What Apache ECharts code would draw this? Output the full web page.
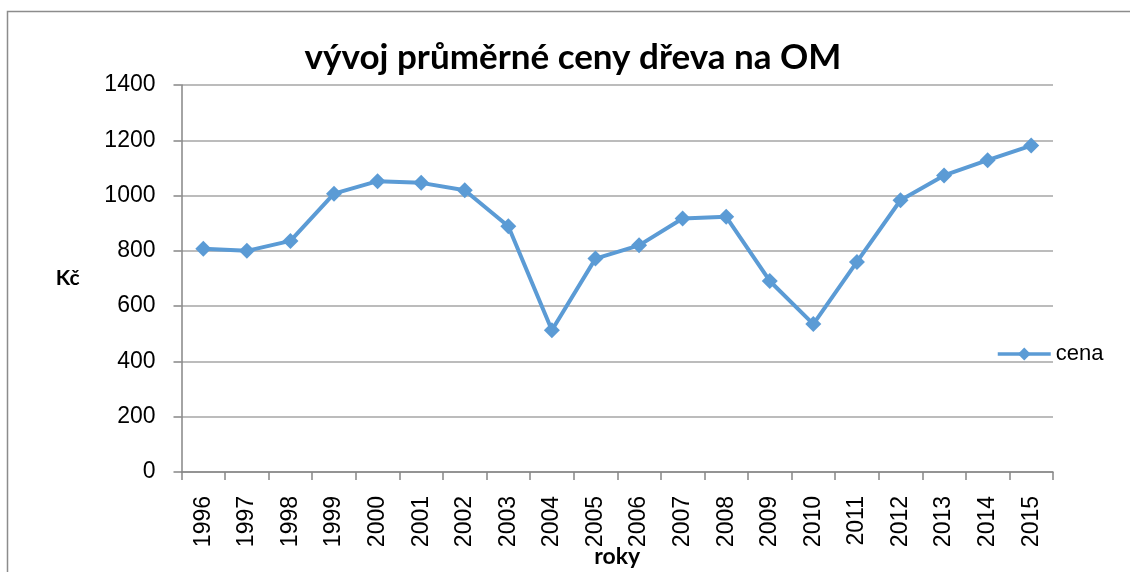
<!DOCTYPE html>
<html>
<head>
<meta charset="utf-8">
<script src="https://cdn.jsdelivr.net/npm/echarts@6/dist/echarts.min.js"></script>
<style>
  html, body { margin: 0; padding: 0; background: #fff; }
  #chart { width: 1130px; height: 572px; }
</style>
</head>
<body>
<div id="chart"></div>
<script>
// Roky a průměrná cena dřeva (Kč)
const years = ['1996','1997','1998','1999','2000','2001','2002','2003','2004','2005',
               '2006','2007','2008','2009','2010','2011','2012','2013','2014','2015'];
const cena = [808, 800, 836, 1007, 1052, 1046, 1019, 889, 513, 772,
              820, 917, 923, 691, 535, 760, 983, 1073, 1128, 1181];
const yTicks = [0, 200, 400, 600, 800, 1000, 1200, 1400];

const chart = echarts.init(document.getElementById('chart'));
const labelFont = 'Liberation Sans';
const blue = '#5b9bd5';

chart.setOption({
  animation: false,
  backgroundColor: '#ffffff',
  graphic: [{
    type: 'rect',
    shape: { x: 7.5, y: 11.5, width: 1140, height: 580 },
    style: { fill: 'none', stroke: '#8c8c8c', lineWidth: 1.5 },
    silent: true
  }],
  title: {
    text: 'vývoj průměrné ceny dřeva na OM',
    left: 568,
    textAlign: 'center',
    top: 35,
    textStyle: { fontFamily: 'Lato', fontWeight: 'bold', fontSize: 35, color: '#000' }
  },
  legend: {
    data: ['cena'],
    left: 991,
    top: 338,
    itemWidth: 53,
    itemHeight: 16,
    itemGap: 2,
    lineStyle: { width: 3.5, color: blue },
    itemStyle: { color: blue },
    textStyle: { fontFamily: labelFont, fontSize: 22, color: '#000' }
  },
  grid: {
    left: 181.5, right: 77, top: 85, bottom: 100,
    containLabel: false,
    outerBoundsMode: 'none'
  },
  xAxis: {
    type: 'category',
    data: years,
    boundaryGap: true,
    name: 'roky',
    nameLocation: 'middle',
    nameGap: 73,
    nameMoveOverlap: false,
    nameTextStyle: { fontFamily: 'Lato', fontWeight: 'bold', fontSize: 23, color: '#000' },
    axisLine: { lineStyle: { color: '#868686', width: 1.5 } },
    axisTick: { show: true, length: 8, alignWithLabel: false, lineStyle: { color: '#868686', width: 1.5 } },
    axisLabel: {
      rotate: 90, margin: 24, interval: 0,
      fontFamily: labelFont, fontSize: 23, color: '#000'
    },
    splitLine: { show: false }
  },
  yAxis: {
    type: 'value',
    min: yTicks[0],
    max: yTicks[yTicks.length - 1],
    interval: 200,
    name: 'Kč',
    nameLocation: 'middle',
    nameRotate: 0,
    nameGap: 102,
    nameMoveOverlap: false,
    nameTextStyle: { fontFamily: 'Lato', fontWeight: 'bold', fontSize: 21, color: '#000', padding: [10, 0, 0, 0] },
    axisLine: { show: true, lineStyle: { color: '#868686', width: 1.5 } },
    axisTick: { show: true, length: 8, lineStyle: { color: '#868686', width: 1.5 } },
    axisLabel: {
      margin: 26, fontFamily: labelFont, fontSize: 23, color: '#000',
      formatter: v => String(v)
    },
    splitLine: { show: true, lineStyle: { color: '#a6a6a6', width: 1.5 } }
  },
  series: [{
    name: 'cena',
    type: 'line',
    data: cena,
    symbol: 'diamond',
    symbolSize: 16,
    lineStyle: { color: blue, width: 4 },
    itemStyle: { color: blue }
  }]
});
</script>
</body>
</html>
